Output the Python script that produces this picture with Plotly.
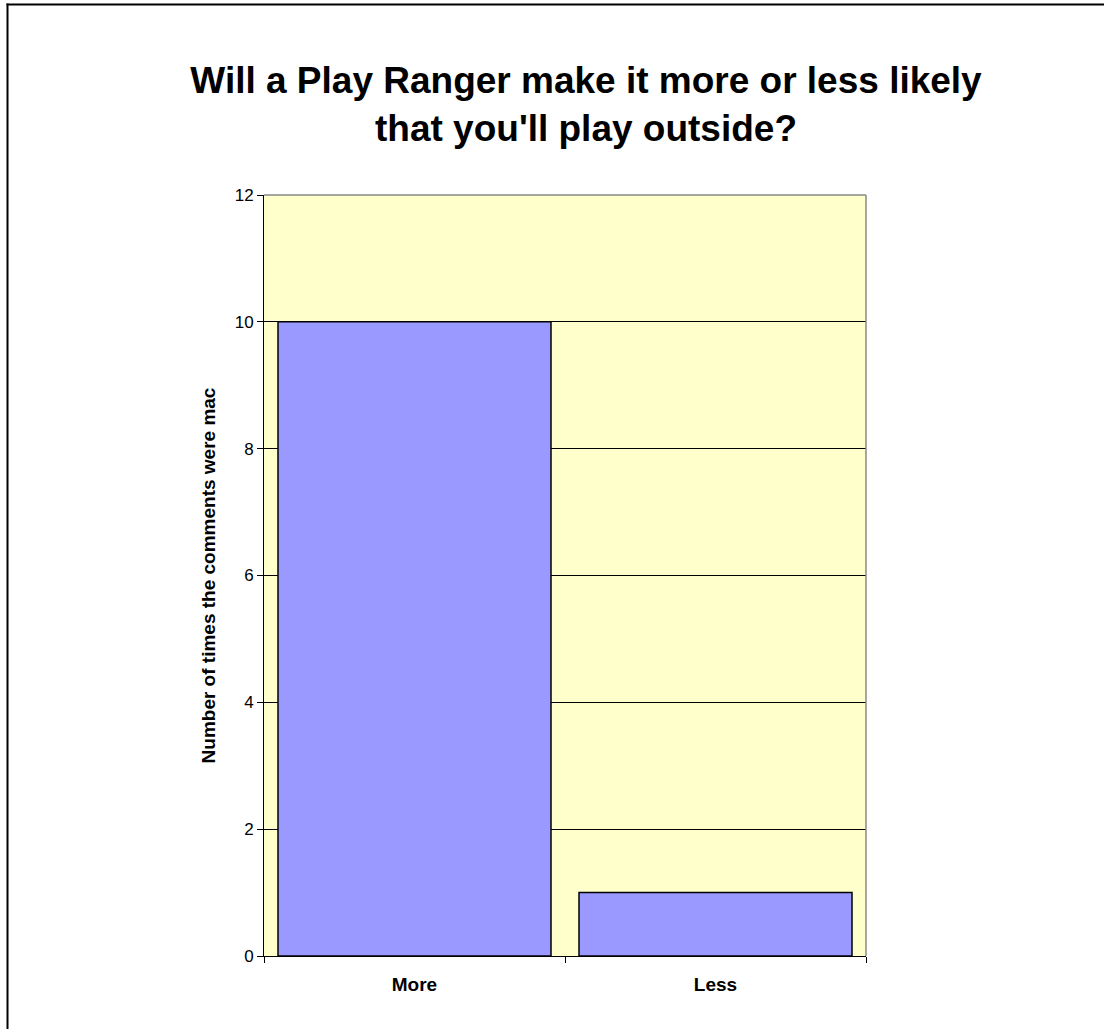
import plotly.graph_objects as go

categories = ["More", "Less"]
values = [10, 1]
y_ticks = [0, 2, 4, 6, 8, 10, 12]

fig = go.Figure()
fig.add_trace(go.Bar(
    x=categories, y=values,
    marker=dict(color="#9999FF", line=dict(color="black", width=1.5)),
    width=0.907,
))

W, H = 1104, 1029
L, T = 264, 195
R = W - 866
B = H - 956
pw = W - L - R
ph = H - T - B

def px_x(p):
    return (p - L) / pw

def px_y(p):
    return (H - B - p) / ph

fig.update_layout(
    width=W, height=H,
    margin=dict(l=L, r=R, t=T, b=B),
    paper_bgcolor="white",
    plot_bgcolor="#FFFFCC",
    showlegend=False,
    font=dict(family="Liberation Sans, Arial, sans-serif", color="black"),
    title=dict(
        text="Will a Play Ranger make it more or less likely<br>that you'll play outside?",
        x=586 / W, xanchor="center",
        y=1 - 92.5 / H, yanchor="middle",
        font=dict(size=37, family="Liberation Sans, Arial, sans-serif", color="black", weight="bold"),
    ),
    xaxis=dict(
        type="category",
        showline=True, linecolor="black", linewidth=1,
        ticks="outside", ticklen=6, tickcolor="black",
        tickson="boundaries",
        tickfont=dict(size=19, weight="bold"),
        ticklabelstandoff=11,
        showgrid=False,
        range=[-0.5, 1.5],
    ),
    yaxis=dict(
        range=[0, 12],
        tickvals=y_ticks,
        showline=True, linecolor="black", linewidth=1,
        ticks="outside", ticklen=6, tickcolor="black",
        tickfont=dict(size=17),
        showgrid=True, gridcolor="black", gridwidth=1,
        zeroline=False,
        title=dict(text="Number of times the comments were mac",
                   font=dict(size=19, weight="bold"), standoff=14),
    ),
    shapes=[
        dict(type="line", xref="x domain", yref="y domain", x0=0, x1=1, y0=1, y1=1,
             line=dict(color="#888888", width=1.5), layer="above"),
        dict(type="line", xref="x domain", yref="y domain", x0=1, x1=1, y0=0, y1=1,
             line=dict(color="#888888", width=1.5), layer="above"),
        # outer chart-area border (only top and left edges are visible in the frame)
        dict(type="line", xref="paper", yref="paper",
             x0=px_x(6.5), x1=px_x(1110), y0=px_y(4.5), y1=px_y(4.5),
             line=dict(color="black", width=2), layer="above"),
        dict(type="line", xref="paper", yref="paper",
             x0=px_x(7.5), x1=px_x(7.5), y0=px_y(1035), y1=px_y(3.5),
             line=dict(color="black", width=2), layer="above"),
    ],
)

fig.write_html("out.html",
               config={"displayModeBar": False},
               post_script="document.body.style.margin='0';document.body.style.overflow='hidden';")
